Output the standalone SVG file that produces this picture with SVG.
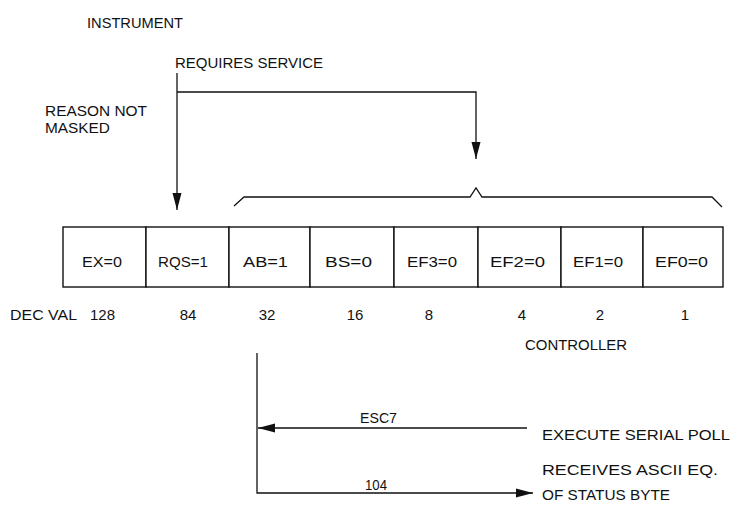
<svg xmlns="http://www.w3.org/2000/svg" width="742" height="510" viewBox="0 0 742 510">
<defs>
<style>
text{font-family:"Liberation Sans","DejaVu Sans",sans-serif;font-size:15px;fill:#111}
.c{text-anchor:middle}
.ln{fill:none;stroke:#111;stroke-width:1.3}
.box{fill:#fff;stroke:#111;stroke-width:1.4}
</style>
<marker id="av" viewBox="0 0 17 10" refX="17" refY="5" markerWidth="17" markerHeight="10" markerUnits="userSpaceOnUse" orient="auto">
<path d="M0,0.5 L17,5 L0,9.5 Z" fill="#111"/>
</marker>
</defs>
<rect width="742" height="510" fill="#fff"/>
<g id="labels-top">
<text x="87" y="28" textLength="96" lengthAdjust="spacingAndGlyphs">INSTRUMENT</text>
<text x="175" y="68" textLength="148" lengthAdjust="spacingAndGlyphs">REQUIRES SERVICE</text>
<text x="45" y="116" textLength="102" lengthAdjust="spacingAndGlyphs">REASON NOT</text>
<text x="45" y="133" textLength="65" lengthAdjust="spacingAndGlyphs">MASKED</text>
</g>
<g id="status-byte">
<g id="bit7"><rect class="box" x="63" y="227" width="83" height="60"/><text x="82" y="267" textLength="40" lengthAdjust="spacingAndGlyphs">EX=0</text></g>
<g id="bit6"><rect class="box" x="146" y="227" width="83" height="60"/><text x="158" y="267" textLength="50" lengthAdjust="spacingAndGlyphs">RQS=1</text></g>
<g id="bit5"><rect class="box" x="229" y="227" width="81" height="60"/><text x="243" y="267" textLength="45" lengthAdjust="spacingAndGlyphs">AB=1</text></g>
<g id="bit4"><rect class="box" x="310" y="227" width="84" height="60"/><text x="325" y="267" textLength="47" lengthAdjust="spacingAndGlyphs">BS=0</text></g>
<g id="bit3"><rect class="box" x="394" y="227" width="84" height="60"/><text x="407" y="267" textLength="50" lengthAdjust="spacingAndGlyphs">EF3=0</text></g>
<g id="bit2"><rect class="box" x="478" y="227" width="83" height="60"/><text x="490" y="267" textLength="55" lengthAdjust="spacingAndGlyphs">EF2=0</text></g>
<g id="bit1"><rect class="box" x="561" y="227" width="82" height="60"/><text x="573" y="267" textLength="50" lengthAdjust="spacingAndGlyphs">EF1=0</text></g>
<g id="bit0"><rect class="box" x="643" y="227" width="80" height="60"/><text x="655" y="267" textLength="53" lengthAdjust="spacingAndGlyphs">EF0=0</text></g>
</g>
<g id="dec-values">
<text x="10" y="320" textLength="67" lengthAdjust="spacingAndGlyphs">DEC VAL</text>
<text x="90" y="320" textLength="25" lengthAdjust="spacingAndGlyphs">128</text>
<text class="c" x="188" y="320">84</text>
<text class="c" x="267" y="320">32</text>
<text class="c" x="355" y="320">16</text>
<text class="c" x="429" y="320">8</text>
<text class="c" x="522" y="320">4</text>
<text class="c" x="600" y="320">2</text>
<text class="c" x="685" y="320">1</text>
</g>
<g id="labels-bottom">
<text x="525" y="350" textLength="102" lengthAdjust="spacingAndGlyphs">CONTROLLER</text>
<text x="360" y="423" textLength="37" lengthAdjust="spacingAndGlyphs">ESC7</text>
<text x="542" y="440" textLength="188" lengthAdjust="spacingAndGlyphs">EXECUTE SERIAL POLL</text>
<text x="365" y="490" textLength="22" lengthAdjust="spacingAndGlyphs">104</text>
<text x="542" y="475" textLength="176" lengthAdjust="spacingAndGlyphs">RECEIVES ASCII EQ.</text>
<text x="542" y="500" textLength="128" lengthAdjust="spacingAndGlyphs">OF STATUS BYTE</text>
</g>
<g id="connectors">
<path class="ln" d="M177,73 V210" marker-end="url(#av)"/>
<path class="ln" d="M177,92 H476 V159" marker-end="url(#av)"/>
<path class="ln" d="M234,206 L244,197 H470 L476,188 L482,197 H712 L722,207"/>
<path class="ln" d="M257,353 V493 H533" marker-end="url(#av)"/>
<path class="ln" d="M527,428 H258" marker-end="url(#av)"/>
</g>
</svg>
